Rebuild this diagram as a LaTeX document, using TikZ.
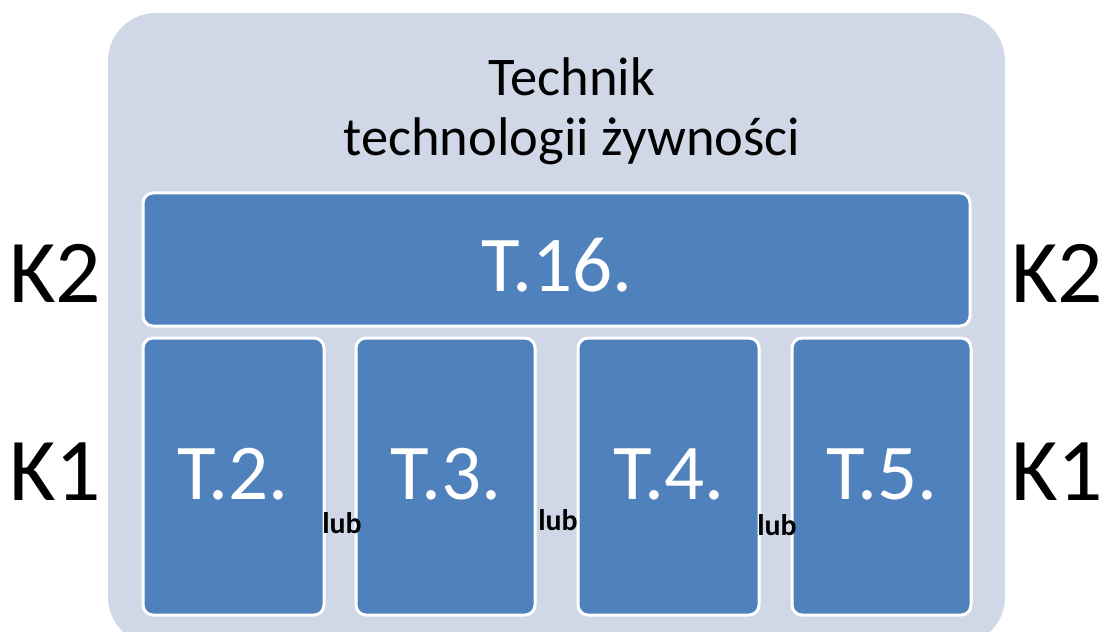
\documentclass[tikz,border=0pt]{standalone}
\usepackage{fontspec}
\setmainfont{Carlito}
\usepackage{tikz}
\definecolor{tlo}{RGB}{208,216,232}
\definecolor{niebieski}{RGB}{79,129,189}

\begin{document}
\begin{tikzpicture}[x=0.2mm,y=-0.2mm,
  kafel/.style={fill=niebieski,draw=white,line width=0.6mm,rounded corners=2mm},
  kwal/.style={black,anchor=base,font=\fontsize{51}{60}\selectfont},
  nr/.style={white,anchor=base,font=\fontsize{45}{54}\selectfont},
  lub/.style={black,anchor=base,font=\fontsize{17}{20}\selectfont\bfseries}]
\useasboundingbox (0,0) rectangle (1109,632);

%%%tlo
\fill[tlo,rounded corners=9.6mm](108,13) rectangle (1005,645);
\draw node[black,anchor=base,font=\fontsize{31}{36}\selectfont] (tytul) at (572,96) {Technik};
\draw node[black,anchor=base,font=\fontsize{31}{36}\selectfont] (zawod) at (572,156) {technologii żywności};

%%%kwalifikacja K2
\draw[kafel](143,193) rectangle (970,326);
\draw node[nr] (t16) at (557,291) {T.16.};

%%%kwalifikacje K1
\draw[kafel](143,338) rectangle (324,615);
\draw[kafel](356,338) rectangle (535,615);
\draw[kafel](578,338) rectangle (759,615);
\draw[kafel](792,338) rectangle (971,615);
\draw node[nr] (t2) at (233,499) {T.2.};
\draw node[nr] (t3) at (446,499) {T.3.};
\draw node[nr] (t4) at (669,499) {T.4.};
\draw node[nr] (t5) at (882,499) {T.5.};

\draw node[lub] (lub1) at (342,533) {lub};
\draw node[lub] (lub2) at (558,530) {lub};
\draw node[lub] (lub3) at (777,535) {lub};

%%%poziomy
\draw node[kwal] (k2l) at (55,302) {K2};
\draw node[kwal] (k2p) at (1057,302) {K2};
\draw node[kwal] (k1l) at (55,500) {K1};
\draw node[kwal] (k1p) at (1057,500) {K1};

\end{tikzpicture}
\end{document}
